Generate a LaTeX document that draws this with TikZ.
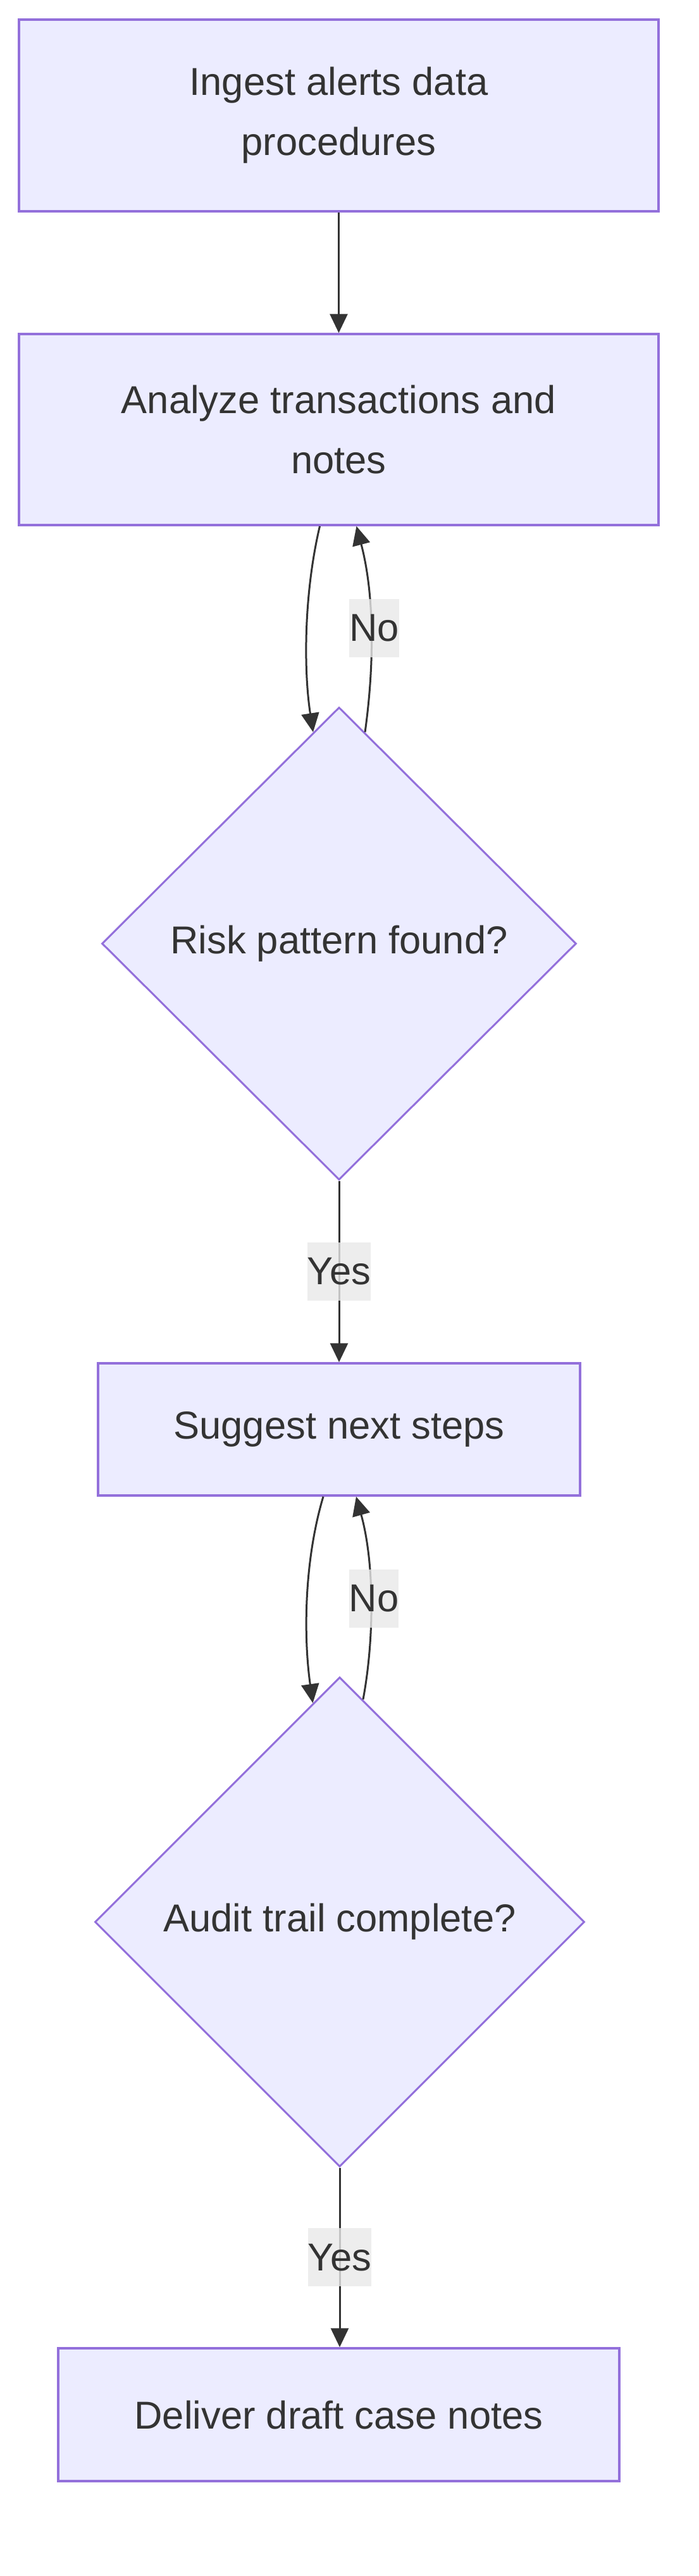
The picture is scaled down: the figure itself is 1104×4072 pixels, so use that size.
\documentclass[tikz,border=0pt]{standalone}
\usepackage{fontspec}
\setmainfont{Liberation Sans}
\usetikzlibrary{shapes.geometric,arrows.meta,calc}
\definecolor{nodefill}{HTML}{ECECFF}
\definecolor{nodeline}{HTML}{9370DB}
\definecolor{edgecol}{HTML}{333333}
\definecolor{lblfill}{HTML}{E8E8E8}
\begin{document}
\begin{tikzpicture}[x=1pt,y=-1pt,
  every node/.style={font=\fontsize{61.5}{95}\selectfont, text=edgecol},
  procbox/.style={draw=nodeline, fill=nodefill, line width=3.5pt, rectangle, inner sep=0pt, align=center},
  decis/.style={draw=nodeline, fill=nodefill, line width=3pt, diamond, aspect=1, inner sep=0pt},
  conn/.style={draw=edgecol, line width=3pt, -{Triangle[length=30pt,width=28pt]}},
  lbl/.style={fill=lblfill, fill opacity=0.8, text opacity=1, inner sep=0pt, minimum height=92pt, minimum width=78pt}]
\useasboundingbox (0,0) rectangle (1104,4072);

\node[procbox, minimum width=1011pt, minimum height=303pt] (b1) at (535.5,182.5) {Ingest alerts data\\procedures};
\node[procbox, minimum width=1011pt, minimum height=302pt] (b2) at (535.5,679) {Analyze transactions and\\notes};
\node[decis, minimum width=750pt, minimum height=747pt] (d1) at (536,1491.5) {Risk pattern found?};
\node[procbox, minimum width=762pt, minimum height=209pt] (b3) at (536,2259.5) {Suggest next steps};
\node[decis, minimum width=774pt, minimum height=774pt] (d2) at (537,3038) {Audit trail complete?};
\node[procbox, minimum width=887pt, minimum height=210pt] (b5) at (535.5,3817) {Deliver draft case notes};

\draw[conn] (b1.south) -- (b2.north);
\draw[conn] ($(b2.south)+(-30,0)$) .. controls (480,940) and (480,1060) .. (d1.97);
\draw[conn] (d1.83) .. controls (592,1050) and (592,940) .. node[lbl, pos=0.5, xshift=5pt, yshift=2pt] {No} ($(b2.south)+(28,0)$);
\draw[conn] (d1.south) -- node[lbl] {Yes} (d1.south |- b3.north);
\draw[conn] ($(b3.south)+(-25,0)$) .. controls (480,2470) and (480,2590) .. (d2.97);
\draw[conn] (d2.84) .. controls (592,2590) and (592,2470) .. node[lbl, pos=0.5, xshift=5pt, yshift=2pt] {No} ($(b3.south)+(27,0)$);
\draw[conn] (d2.south) -- node[lbl] {Yes} (d2.south |- b5.north);
\end{tikzpicture}
\end{document}
